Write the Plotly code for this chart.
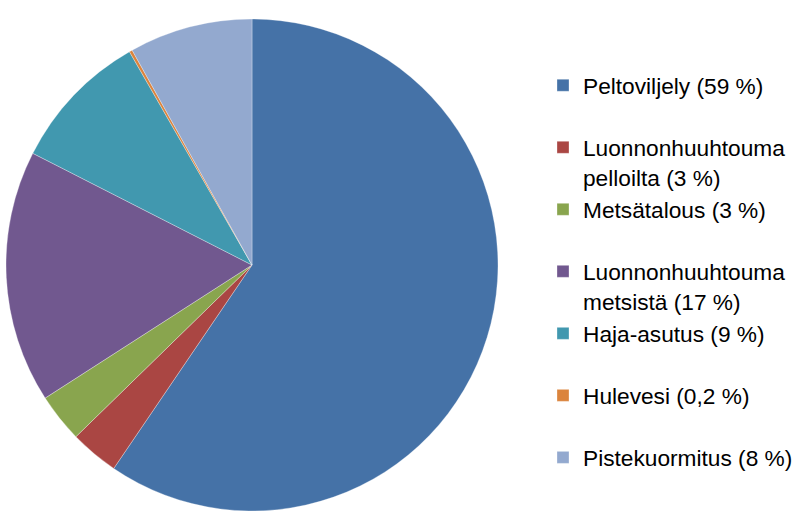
import plotly.graph_objects as go

labels = [
    "Peltoviljely (59 %)",
    "Luonnonhuuhtouma<br>pelloilta (3 %)",
    "Metsätalous (3 %)",
    "Luonnonhuuhtouma<br>metsistä (17 %)",
    "Haja-asutus (9 %)",
    "Hulevesi (0,2 %)",
    "Pistekuormitus (8 %)",
]
values = [59.5, 3.2, 3.2, 16.6, 9.2, 0.2, 8.1]
colors = ["#4572A7", "#AA4643", "#89A54E", "#71588F", "#4198AF", "#DB843D", "#93A9CF"]

# pad single-line labels to two lines so entries are evenly spaced
legend_labels = [l if "<br>" in l else l + "<br>\u00a0" for l in labels]

W, H = 798, 520
cx, cy, r = 252, 265, 246

fig = go.Figure(go.Pie(
    labels=legend_labels,
    values=values,
    sort=False,
    direction="clockwise",
    rotation=0,
    textinfo="none",
    hoverinfo="label+percent",
    marker=dict(colors=colors, line=dict(color="rgba(255,255,255,0.5)", width=0.6)),
    domain=dict(x=[max(0, (cx - r) / W), (cx + r) / W],
                y=[max(0, 1 - (cy + r) / H), min(1, 1 - (cy - r) / H)]),
))

fig.update_layout(
    width=W, height=H,
    margin=dict(l=0, r=0, t=0, b=0),
    paper_bgcolor="white",
    plot_bgcolor="white",
    font=dict(family="Liberation Sans, Arial, sans-serif", size=22, color="#000000"),
    legend=dict(
        x=1, xanchor="right",
        y=1 - 64 / H, yanchor="top",
        valign="top",
        font=dict(size=22.7),
        bgcolor="rgba(0,0,0,0)",
    ),
)

fig.write_html("out.html")
